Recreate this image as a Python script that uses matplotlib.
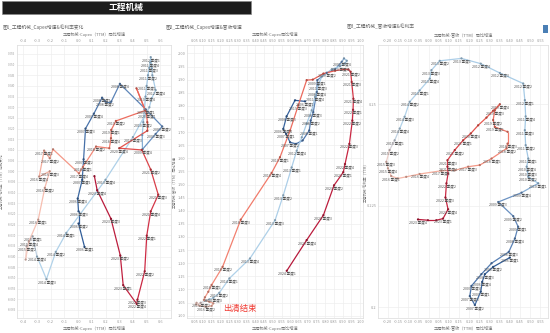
import matplotlib
matplotlib.use("Agg")
import matplotlib.pyplot as plt
import matplotlib.ticker as mticker
import numpy as np
from matplotlib.collections import LineCollection
from matplotlib.colors import LinearSegmentedColormap, to_rgb
from matplotlib.patches import Rectangle

plt.rcParams['font.family'] = ['Noto Sans CJK SC', 'DejaVu Sans']

START_YEAR = 2006
N_QUARTERS = 73  # 2006 季度1 ~ 2024 季度1

# 图1: Capex增速 vs 毛利率同比变化
capex_1 = [
    0.047, 0.003, 0.003, -0.003,
    0.030, 0.040, 0.054, 0.115,
    0.175, 0.199, 0.242, 0.305,
    0.494, 0.614, 0.566, 0.470,
    0.468, 0.476, 0.484, 0.492,
    0.500, 0.510, 0.520, 0.526,
    0.530, 0.538, 0.542, 0.566,
    0.537, 0.520, 0.400, 0.200,
    -0.086, -0.163, -0.231, -0.300,
    -0.332, -0.376, -0.383, -0.360,
    -0.291, -0.243, -0.207, -0.284,
    -0.248, -0.207, -0.183, 0.006,
    0.035, 0.131, 0.228, 0.240,
    0.242, 0.276, 0.490, 0.426,
    0.500, 0.505, 0.505, 0.300,
    0.465, 0.530, 0.585, 0.530,
    0.501, 0.486, 0.433, 0.428,
    0.329, 0.308, 0.240, 0.139,
    0.119,
]
margin_chg_1 = [
    -0.0355, -0.0245, -0.0188, -0.0128,
    -0.0040, 0.0056, 0.0200, 0.0270,
    0.0345, 0.0327, 0.0327, 0.0410,
    0.0290, 0.0210, 0.0175, 0.0103,
    0.0170, 0.0230, 0.0290, 0.0350,
    0.0400, 0.0450, 0.0485, 0.0510,
    0.0535, 0.0483, 0.0450, 0.0380,
    0.0342, 0.0300, 0.0160, -0.0040,
    -0.0289, -0.0378, -0.0506, -0.0400,
    -0.0305, -0.0352, -0.0414, -0.0330,
    -0.0227, -0.0078, 0.0000, -0.0025,
    0.0097, 0.0061, 0.0103, -0.0010,
    0.0020, 0.0116, 0.0108, 0.0155,
    0.0194, 0.0236, 0.0285, 0.0389,
    0.0270, 0.0230, 0.0190, 0.0108,
    0.0100, 0.0008, -0.0110, -0.0188,
    -0.0302, -0.0469, -0.0602, -0.0622,
    -0.0534, -0.0395, -0.0223, -0.0089,
    -0.0023,
]

# 图2: Capex增速 vs 营收增速
capex_2 = [
    0.685, 0.627, 0.579, 0.560,
    0.576, 0.599, 0.633, 0.671,
    0.709, 0.717, 0.732, 0.752,
    0.755, 0.809, 0.857, 0.895,
    0.908, 0.924, 0.914, 0.885,
    0.838, 0.780, 0.761, 0.742,
    0.723, 0.694, 0.666, 0.637,
    0.608, 0.560, 0.513, 0.369,
    0.251, 0.193, 0.159, 0.136,
    0.117, 0.086, 0.063, 0.060,
    0.082, 0.117, 0.149, 0.159,
    0.136, 0.105, 0.111, 0.130,
    0.149, 0.212, 0.316, 0.493,
    0.541, 0.599, 0.646, 0.694,
    0.729, 0.790, 0.857, 0.908,
    0.933, 0.946, 0.952, 0.962,
    0.960, 0.956, 0.939, 0.914,
    0.904, 0.851, 0.790, 0.694,
    0.580,
]
rev_2 = [
    1.817, 1.821, 1.760, 1.712,
    1.693, 1.661, 1.655, 1.668,
    1.706, 1.744, 1.776, 1.853,
    1.898, 1.926, 1.939, 1.968,
    1.981, 1.972, 1.962, 1.951,
    1.939, 1.911, 1.879, 1.834,
    1.783, 1.732, 1.680, 1.629,
    1.565, 1.459, 1.364, 1.218,
    1.142, 1.087, 1.068, 1.062,
    1.057, 1.049, 1.049, 1.043,
    1.037, 1.034, 1.037, 1.047,
    1.053, 1.060, 1.070, 1.091,
    1.117, 1.186, 1.366, 1.544,
    1.604, 1.706, 1.802, 1.898,
    1.900, 1.923, 1.934, 1.939,
    1.939, 1.930, 1.891, 1.827,
    1.785, 1.744, 1.655, 1.578,
    1.547, 1.497, 1.383, 1.288,
    1.171,
]

# 图3: 营收增速 vs 毛利率
rev_3 = [
    0.400, 0.318, 0.277, 0.264,
    0.257, 0.228, 0.203, 0.211,
    0.260, 0.310, 0.395, 0.425,
    0.441, 0.417, 0.343, 0.458,
    0.540, 0.491, 0.487, 0.483,
    0.491, 0.478, 0.474, 0.478,
    0.474, 0.466, 0.351, 0.257,
    0.162, 0.055, 0.014, 0.006,
    -0.044, -0.093, -0.118, -0.142,
    -0.167, -0.192, -0.208, -0.200,
    -0.184, -0.151, -0.110, -0.044,
    0.063, 0.129, 0.195, 0.252,
    0.310, 0.384, 0.389, 0.389,
    0.326, 0.318, 0.326, 0.351,
    0.318, 0.285, 0.244, 0.208,
    0.170, 0.129, 0.093, 0.093,
    0.096, 0.088, 0.083, 0.096,
    0.071, 0.038, -0.003, -0.052,
]
margin_3 = [
    0.2122, 0.2099, 0.2081, 0.2062,
    0.2038, 0.2005, 0.2027, 0.2052,
    0.2081, 0.2108, 0.2136, 0.2169,
    0.2198, 0.2224, 0.2259, 0.2282,
    0.2305, 0.2321, 0.2335, 0.2346,
    0.2366, 0.2399, 0.2436, 0.2470,
    0.2510, 0.2551, 0.2577, 0.2600,
    0.2613, 0.2607, 0.2584, 0.2563,
    0.2534, 0.2506, 0.2469, 0.2440,
    0.2411, 0.2387, 0.2358, 0.2342,
    0.2323, 0.2317, 0.2321, 0.2328,
    0.2336, 0.2337, 0.2346, 0.2350,
    0.2366, 0.2391, 0.2403, 0.2432,
    0.2444, 0.2461, 0.2485, 0.2500,
    0.2484, 0.2467, 0.2448, 0.2428,
    0.2411, 0.2387, 0.2362, 0.2346,
    0.2329, 0.2305, 0.2270, 0.2241,
    0.2218, 0.2214, 0.2214, 0.2216,
]

# 按时间着色: 早期蓝 -> 中期浅色 -> 近期深红
def tpos(year):
    return (year - START_YEAR) * 4 / (N_QUARTERS - 1)

time_cmap = LinearSegmentedColormap.from_list('time', [
    (tpos(2006), '#2f5c98'),
    (tpos(2009.75), '#6e94c4'),
    (tpos(2010), '#9ec5e3'),
    (tpos(2014.75), '#b3d3ea'),
    (tpos(2015.5), '#f6cdc2'),
    (tpos(2017), '#f5ab9a'),
    (tpos(2018.5), '#f27e6d'),
    (tpos(2020.5), '#e6594f'),
    (tpos(2022), '#cf2c45'),
    (1.0, '#b5173a'),
])


def quarter_labels(n):
    return [f"{START_YEAR + i // 4} 季度{i % 4 + 1}" for i in range(n)]


point_labels = []


def draw_path(ax, xs, ys):
    xs = np.asarray(xs)
    ys = np.asarray(ys)
    n = len(xs)
    t = np.arange(n) / (N_QUARTERS - 1)
    pts = np.column_stack([xs, ys]).reshape(-1, 1, 2)
    segs = np.concatenate([pts[:-1], pts[1:]], axis=1)
    lc = LineCollection(segs, cmap=time_cmap, linewidths=0.9, zorder=2)
    lc.set_array((t[:-1] + t[1:]) / 2)
    lc.set_clim(0, 1)
    ax.add_collection(lc)
    cols = [tuple(c * 0.75 for c in to_rgb(time_cmap(v))) for v in t]
    ax.scatter(xs, ys, s=2.6, c=cols, zorder=3, linewidths=0)
    labs = []
    for x, y, lab in zip(xs, ys, quarter_labels(n)):
        labs.append(ax.annotate(lab, (x, y), xytext=(0, -1.2), textcoords='offset points',
                                ha='center', va='top', fontsize=2.6, color='#555555',
                                zorder=4))
    point_labels.append(labs)


def style_axes(ax, xlabel, ylabel, ylab_x, ytick_size=2.8):
    ax.tick_params(axis='x', labeltop=True, labelbottom=True, length=0, pad=1.5,
                   labelsize=2.8, labelcolor='#999999')
    ax.tick_params(axis='y', length=0, pad=1, labelsize=ytick_size, labelcolor='#999999')
    ax.grid(True, color='#eeeeee', linewidth=0.5)
    ax.set_axisbelow(True)
    for sp in ax.spines.values():
        sp.set_color('#e0e0e0')
        sp.set_linewidth(0.6)
    ax.set_xlabel(xlabel, fontsize=3, color='#777777', labelpad=1)
    ax.text(0.5, 1.03, xlabel, transform=ax.transAxes, ha='center', va='bottom',
            fontsize=3, color='#777777')
    ax.set_ylabel(ylabel, fontsize=2.6, color='#777777')
    ax.yaxis.set_label_coords(ylab_x, 0.5)


fig = plt.figure(figsize=(5.5, 3.33), dpi=100)
fig.patch.set_facecolor('white')

# 标题栏
fig.patches.append(Rectangle((2 / 550, 1 - 14.3 / 333), 248.5 / 550, 13.3 / 333,
                             transform=fig.transFigure, facecolor='#1c1c1c',
                             edgecolor='#888888', linewidth=0.5))
fig.text(126 / 550, 1 - 7.8 / 333, '工程机械', color='white', fontsize=6.3,
         fontweight='bold', ha='center', va='center')
fig.patches.append(Rectangle((543 / 550, 1 - 33 / 333), 5 / 550, 8 / 333,
                             transform=fig.transFigure, facecolor='#4a7fb5',
                             edgecolor='none'))

subtitles = ['图1_工程机械_Capex增速&毛利率变化', '图2_工程机械_Capex增速&营收增速',
             '图3_工程机械_营收增速&毛利率']
for sx, st in zip([2.7, 165.7, 346.7], subtitles):
    fig.text(sx / 550, 1 - 27 / 333, st, fontsize=3.4, color='#666666',
             ha='left', va='center')

bottom = 15 / 333
height = 273 / 333

# 图1
ax1 = fig.add_axes([17 / 550, bottom, 154 / 550, height])
draw_path(ax1, capex_1, margin_chg_1)
ax1.set_xlim(-0.446, 0.678)
ax1.set_ylim(-0.0688, 0.0592)
ax1.xaxis.set_major_locator(mticker.MultipleLocator(0.1))
ax1.xaxis.set_major_formatter(mticker.FormatStrFormatter('%.1f'))
ax1.yaxis.set_major_locator(mticker.MultipleLocator(0.005))
ax1.yaxis.set_major_formatter(mticker.FormatStrFormatter('%.3f'))
style_axes(ax1, '工程机械-Capex（TTM）同比增速', '工程机械-毛利率（TTM）同比变化',
           -0.084, ytick_size=2.1)

# 图2
ax2 = fig.add_axes([187 / 550, bottom, 176 / 550, height])
draw_path(ax2, capex_2, rev_2)
ax2.set_xlim(0.008, 1.017)
ax2.set_ylim(0.991, 2.032)
ax2.xaxis.set_major_locator(mticker.MultipleLocator(0.05))
ax2.xaxis.set_major_formatter(mticker.FormatStrFormatter('%.2f'))
ax2.yaxis.set_major_locator(mticker.MultipleLocator(0.05))
ax2.yaxis.set_major_formatter(mticker.FormatStrFormatter('%.2f'))
style_axes(ax2, '工程机械-Capex同比增速', '工程机械-营收（TTM）同比增速', -0.06)
ax2.text(0.312, 1.0255, '出清结束', color='#f03a32', fontsize=6,
         ha='center', va='center', zorder=5)

# 图3
ax3 = fig.add_axes([378 / 550, bottom, 170 / 550, height])
draw_path(ax3, rev_3, margin_3)
ax3.set_xlim(-0.249, 0.588)
ax3.set_ylim(0.1973, 0.2646)
ax3.xaxis.set_major_locator(mticker.MultipleLocator(0.05))
ax3.xaxis.set_major_formatter(mticker.FormatStrFormatter('%.2f'))
ax3.set_yticks([0.2, 0.225, 0.25])
ax3.set_yticklabels(['0.2', '0.225', '0.25'])
style_axes(ax3, '工程机械-营收（TTM）同比增速', '工程机械-毛利率（TTM）', -0.055)

# 标签重叠时隐藏后出现的那个
fig.canvas.draw()
renderer = fig.canvas.get_renderer()
for labs in point_labels:
    kept = []
    for lab in labs:
        bb = lab.get_window_extent(renderer).expanded(1.0, 0.9)
        if any(bb.overlaps(k) for k in kept):
            lab.set_visible(False)
        else:
            kept.append(bb)

fig.savefig('out.png', dpi=100, facecolor='white')
